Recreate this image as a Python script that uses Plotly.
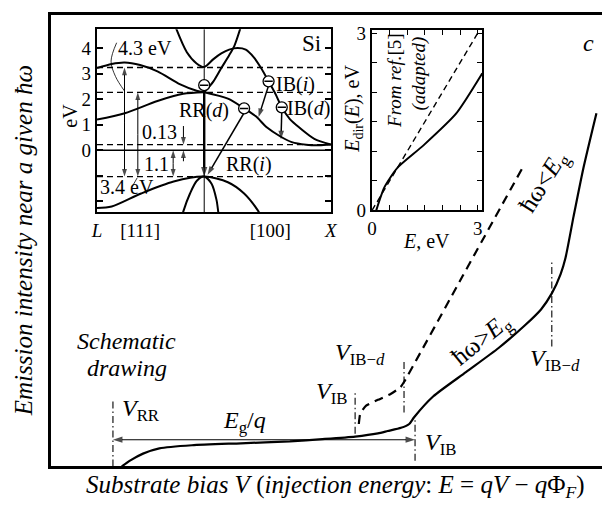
import plotly.graph_objects as go

FONT = "Liberation Serif, Times New Roman, DejaVu Serif, serif"
BLACK = "black"

# ---------------- main panel (schematic, arbitrary units) ----------------
solid_V = [1.284, 1.433, 1.670, 1.966, 2.558, 3.446, 4.334, 4.925, 5.519, 5.933, 6.110,
           6.352, 6.501, 6.590, 6.939, 7.531, 8.123, 8.597, 8.893, 9.089, 9.249, 9.337,
           9.485, 9.663, 9.899]
solid_I = [0.0, 0.128, 0.284, 0.400, 0.470, 0.513, 0.556, 0.605, 0.662, 0.733, 0.784,
           0.855, 0.940, 1.090, 1.553, 2.088, 2.622, 3.120, 3.476, 3.831, 4.259, 4.615,
           5.541, 6.609, 7.821]
dashed_V = [5.586, 5.613, 5.719, 5.933, 6.163, 6.341, 6.412, 7.478, 8.544]
dashed_I = [0.940, 1.175, 1.346, 1.474, 1.603, 1.752, 1.880, 4.231, 6.581]

# vertical dash-dot markers: V position, lower and upper intensity
mark_V = [1.124, 5.519, 6.407, 6.607, 9.089]
mark_lo = [0.0, 0.726, 1.197, 0.128, 2.656]
mark_hi = [1.474, 1.667, 2.329, 1.047, 4.579]
gap_level = 0.592   # E_g/q double arrow height

# ---------------- band-structure inset (k: L=-0.846, Gamma=0, X=1; E in eV) ----------------
lam_up_k = [-0.846, -0.730, -0.629, -0.506, -0.369, -0.189, -0.060, 0.0]
lam_up_E = [3.22, 3.38, 3.44, 3.34, 3.09, 2.58, 2.33, 2.27]
lam_lo_k = [-0.846, -0.627, -0.369, -0.166, 0.0]
lam_lo_E = [1.20, 1.45, 1.93, 2.21, 2.27]
g2_k = [-0.228, -0.137, -0.060, 0.0, 0.073, 0.135, 0.197, 0.264, 0.328, 0.390, 0.444,
        0.508, 0.568, 0.612, 0.676, 0.753, 0.869, 1.0]
g2_E = [4.85, 3.84, 3.40, 3.26, 3.57, 3.79, 3.94, 4.00, 3.94, 3.65, 3.26,
        2.70, 2.15, 1.68, 1.22, 0.88, 0.45, 0.23]
g15_k = [0.0, 0.073, 0.135, 0.197, 0.238, 0.290]
g15_E = [2.27, 2.70, 3.22, 3.72, 4.09, 4.85]
d1_k = [0.0, 0.187, 0.315, 0.405, 0.496, 0.598, 0.691, 0.805, 0.907, 1.0]
d1_E = [2.27, 2.02, 1.64, 1.34, 0.89, 0.55, 0.32, 0.22, 0.20, 0.23]
hh_k = [-0.846, -0.730, -0.498, -0.241, 0.0, 0.187, 0.315, 0.419, 0.440]
hh_E = [-2.26, -2.20, -1.69, -1.22, -1.03, -1.25, -1.69, -2.32, -2.50]
lh_k = [-0.170, -0.164, -0.112, -0.058, 0.0, 0.058, 0.097, 0.110, 0.113]
lh_E = [-2.50, -2.38, -1.69, -1.19, -1.03, -1.31, -1.94, -2.38, -2.50]
levels_E = [3.24, 2.27, 0.22, -1.03]
electrons_k = [0.0, 0.315, 0.508, 0.612]
electrons_E = [2.55, 1.64, 2.70, 1.68]
# transitions (tail k, tail E, head k, head E, width)
trans = [(0.0, 2.36, 0.0, -1.03, 2.4),
         (0.313, 1.45, 0.027, -0.96, 1.5),
         (0.506, 2.51, 0.429, 1.30, 1.5),
         (0.612, 1.49, 0.606, 0.43, 1.5)]
# energy-gap markers (k, E_low, E_high)
gaps = [(-0.629, -1.03, 3.24), (-0.524, -1.03, 2.27), (-0.245, -1.03, 0.0)]

# ---------------- E_dir(E) inset ----------------
edir_E = [0.12, 0.35, 0.72, 1.46, 2.39, 3.13]
edir_D = [0.0, 0.39, 0.72, 1.10, 1.64, 2.32]
ref_E = [0.0, 3.05]
ref_D = [0.0, 3.05]

fig = go.Figure()


def arrow(x0, y0, x1, y1, ax="x2", ay="y2", width=1.0, head=8):
    fig.add_trace(go.Scatter(x=[x0, x1], y=[y0, y1], mode="lines+markers", xaxis=ax, yaxis=ay,
                             line=dict(color=BLACK, width=width),
                             marker=dict(symbol="arrow", size=[0, head], angleref="previous",
                                         color=BLACK, line=dict(width=0))))


def darrow(x0, y0, x1, y1, ax="x2", ay="y2", width=1.0, head=8):
    xm, ym = (x0 + x1) / 2, (y0 + y1) / 2
    arrow(xm, ym, x0, y0, ax, ay, width, head)
    arrow(xm, ym, x1, y1, ax, ay, width, head)


# main curves
fig.add_trace(go.Scatter(x=solid_V, y=solid_I, mode="lines", xaxis="x", yaxis="y",
                         line=dict(color=BLACK, width=2.2, shape="spline", smoothing=0.6)))
fig.add_trace(go.Scatter(x=dashed_V, y=dashed_I, mode="lines", xaxis="x", yaxis="y",
                         line=dict(color=BLACK, width=2.2, dash="9px,6px", shape="spline", smoothing=0.4)))
for v, lo, hi in zip(mark_V, mark_lo, mark_hi):
    fig.add_trace(go.Scatter(x=[v, v], y=[lo, hi], mode="lines", xaxis="x", yaxis="y",
                             line=dict(color=BLACK, width=1.1, dash="7px,3px,1.5px,3px")))
darrow(mark_V[0], gap_level, mark_V[3], gap_level, "x", "y", width=1.1, head=10)

# band inset
for kk, ee in [(lam_up_k, lam_up_E), (lam_lo_k, lam_lo_E), (g2_k, g2_E), (g15_k, g15_E),
               (d1_k, d1_E), (hh_k, hh_E), (lh_k, lh_E)]:
    fig.add_trace(go.Scatter(x=kk, y=ee, mode="lines", xaxis="x2", yaxis="y2",
                             line=dict(color=BLACK, width=2, shape="spline", smoothing=0.8)))
for lev in levels_E:
    fig.add_trace(go.Scatter(x=[-0.846, 1.0], y=[lev, lev], mode="lines", xaxis="x2", yaxis="y2",
                             line=dict(color=BLACK, width=1.3, dash="6px,4px")))
fig.add_trace(go.Scatter(x=[-0.846, 1.0], y=[0, 0], mode="lines", xaxis="x2", yaxis="y2",
                         line=dict(color=BLACK, width=1.6)))
fig.add_trace(go.Scatter(x=[0, 0], y=[-2.42, 4.74], mode="lines", xaxis="x2", yaxis="y2",
                         line=dict(color=BLACK, width=1)))
# leaders for the 4.3 eV and 3.4 eV labels
fig.add_trace(go.Scatter(x=[-0.691, -0.735, -0.700, -0.629], y=[4.21, 3.49, 2.89, 2.32],
                         mode="lines", xaxis="x2", yaxis="y2",
                         line=dict(color=BLACK, width=0.8, shape="spline")))
fig.add_trace(go.Scatter(x=[-0.568, -0.529], y=[-1.42, -1.08], mode="lines", xaxis="x2", yaxis="y2",
                         line=dict(color=BLACK, width=0.8)))
for k0, e0, k1, e1, w in trans:
    arrow(k0, e0, k1, e1, width=w, head=10 if w > 2 else 9)
for k, lo, hi in gaps:
    darrow(k, lo, k, hi, width=1.0, head=8)
arrow(-0.164, 0.95, -0.164, 0.22, width=1.0, head=8)
arrow(-0.164, -0.43, -0.164, 0.0, width=1.0, head=8)
# electrons
fig.add_trace(go.Scatter(x=electrons_k, y=electrons_E, mode="markers", xaxis="x2", yaxis="y2",
                         marker=dict(symbol="circle", size=11, color="white",
                                     line=dict(color=BLACK, width=1.3))))
fig.add_trace(go.Scatter(x=electrons_k, y=electrons_E, mode="markers", xaxis="x2", yaxis="y2",
                         marker=dict(symbol="line-ew", size=6, line=dict(color=BLACK, width=1.5))))

# E_dir inset
fig.add_trace(go.Scatter(x=ref_E, y=ref_D, mode="lines", xaxis="x3", yaxis="y3",
                         line=dict(color=BLACK, width=1.4, dash="6px,4px")))
fig.add_trace(go.Scatter(x=edir_E, y=edir_D, mode="lines", xaxis="x3", yaxis="y3",
                         line=dict(color=BLACK, width=2, shape="spline", smoothing=0.6)))

ann = []


def label(x, y, text, size=20, ref="2", xanchor="center", angle=0):
    ann.append(dict(x=x, y=y, xref="x" + ref, yref="y" + ref, text=text, showarrow=False,
                    font=dict(family=FONT, size=size, color=BLACK), xanchor=xanchor,
                    yanchor="middle", textangle=angle))


def plabel(px, py, text, size=22, angle=0, xanchor="center"):
    ann.append(dict(x=px / 609, y=1 - py / 518, xref="paper", yref="paper", text=text,
                    showarrow=False, font=dict(family=FONT, size=size, color=BLACK),
                    xanchor=xanchor, yanchor="middle", textangle=angle))


label(-0.467, 4.02, "4.3 eV")
label(-0.606, -1.45, "3.4 eV")
label(-0.351, 0.70, "0.13")
label(-0.375, -0.55, "1.1")
label(-0.004, 1.57, "RR(<i>d</i>)")
label(0.351, -0.55, "RR(<i>i</i>)")
label(0.722, 2.585, "IB(<i>i</i>)")
label(0.822, 1.64, "IB(<i>d</i>)")
label(0.846, 4.17, "Si", size=23)
plabel(65, 113, "eV", size=20, angle=-90)

# E_dir inset labels
label(0.64, 2.20, "<i>From ref.</i>[5]", size=19, ref="3", angle=-90)
label(1.325, 2.31, "<i>(adapted)</i>", size=19, ref="3", angle=-90)
plabel(355, 105, "<i>E</i><sub>dir</sub>(<i>E</i>), eV", size=20, angle=-90)
plabel(430, 242, "<i>E</i>, eV", size=20)

# main labels
label(1.261, 1.239, "<i>V</i><sub>RR</sub>", size=24, ref="", xanchor="left")
label(3.517, 0.983, "<i>E</i><sub>g</sub>/<i>q</i>", size=24, ref="")
label(4.778, 1.624, "<i>V</i><sub>IB</sub>", size=24, ref="", xanchor="left")
label(5.115, 2.479, "<i>V</i><sub>IB−<i>d</i></sub>", size=24, ref="", xanchor="left")
label(6.75, 0.491, "<i>V</i><sub>IB</sub>", size=24, ref="", xanchor="left")
label(8.650, 2.350, "<i>V</i><sub>IB−<i>d</i></sub>", size=24, ref="", xanchor="left")
label(7.815, 2.799, "ħω&gt;<i>E</i><sub>g</sub>", size=25, ref="", angle=-39)
label(8.952, 6.282, "ħω&lt;<i>E</i><sub>g</sub>", size=25, ref="", angle=-58)
label(1.377, 2.778, "<i>Schematic</i>", size=24, ref="")
label(1.377, 2.179, "<i>drawing</i>", size=24, ref="")
label(9.751, 9.380, "<i>c</i>", size=24, ref="")

plabel(18, 242, "<i>Emission intensity near a given ħω</i>", size=25, angle=-90)
plabel(337, 497, "<i>Substrate bias V</i> (<i>injection energy</i>: <i>E</i> = <i>qV</i> − <i>q</i>Φ<sub><i>F</i></sub>)",
       size=25)

axis_common = dict(showgrid=False, zeroline=False, linecolor=BLACK, showline=True)
tf = dict(family=FONT, size=19, color=BLACK)

fig.update_layout(
    width=609, height=518, margin=dict(l=0, r=0, t=0, b=0),
    paper_bgcolor="white", plot_bgcolor="white", showlegend=False,
    font=dict(family=FONT, color=BLACK),
    xaxis=dict(domain=[46 / 609, 1.0], range=[0, 10], linewidth=2.5, mirror=True,
               showticklabels=False, ticks="", **axis_common),
    yaxis=dict(domain=[1 - 476 / 518, 1 - 8 / 518], range=[0, 10], linewidth=2.5, mirror=False,
               showticklabels=False, ticks="", **axis_common),
    xaxis2=dict(anchor="y2", domain=[93 / 609, 332 / 609], range=[-0.846, 1.0], linewidth=2.2,
                mirror=True, ticks="", tickvals=[-0.846, -0.506, 0.521, 1.0],
                ticktext=["<i>L</i>", "[111]", "[100]", "<i>X</i>"], tickfont=tf, **axis_common),
    yaxis2=dict(anchor="x2", domain=[1 - 212.5 / 518, 1 - 23 / 518], range=[-2.42, 4.74],
                linewidth=2.2, mirror="ticks", ticks="inside", ticklen=6, tickwidth=1.5,
                tickcolor=BLACK, tickvals=[0, 1, 2, 3, 4], ticktext=["0", "1", "2", "3", "4"],
                minor=dict(ticks="inside", tickvals=[-2, -1], ticklen=6, tickwidth=1.5,
                           tickcolor=BLACK),
                tickfont=tf, **axis_common),
    xaxis3=dict(anchor="y3", domain=[374 / 609, 486.7 / 609], range=[0, 3.13], linewidth=2.2,
                mirror="ticks", ticks="inside", ticklen=5, tickwidth=1.3, tickcolor=BLACK,
                tickvals=[0, 3], ticktext=["0", "3"],
                minor=dict(ticks="inside", tick0=0, dtick=0.5, ticklen=5, tickwidth=1.3,
                           tickcolor=BLACK),
                tickfont=tf, **axis_common),
    yaxis3=dict(anchor="x3", domain=[1 - 210.7 / 518, 1 - 24 / 518], range=[0, 3.05],
                linewidth=2.2, mirror="ticks", ticks="inside", ticklen=5, tickwidth=1.3,
                tickcolor=BLACK, tickvals=[0, 3], ticktext=["0", "3"],
                minor=dict(ticks="inside", tick0=0, dtick=0.5, ticklen=5, tickwidth=1.3,
                           tickcolor=BLACK),
                tickfont=tf, **axis_common),
    annotations=ann,
)

fig.write_html("out.html")
